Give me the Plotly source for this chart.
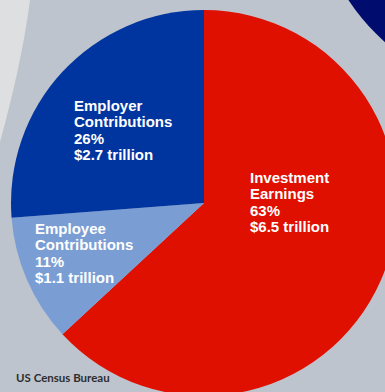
import plotly.graph_objects as go

# Retirement plan asset sources
labels = ["Investment Earnings", "Employee Contributions", "Employer Contributions"]
amounts = [6.5, 1.1, 2.7]          # trillions of dollars
percents = [63, 11, 26]
colors = ["#DF1000", "#7A9ED4", "#0035A0"]
source = "US Census Bureau"

# canvas size in px (slightly larger than the viewport; the overflow is hidden)
W, H = 397, 396


def px(x, y):
    """pixel position (from top-left) -> paper coordinates"""
    return x / W, 1 - y / H


fig = go.Figure()
fig.add_trace(go.Pie(
    labels=labels,
    values=amounts,
    sort=False,
    direction="clockwise",
    rotation=0,
    marker=dict(colors=colors, line=dict(width=0)),
    textinfo="none",
    hoverinfo="label+percent",
    showlegend=False,
    domain=dict(x=[11 / W, 1], y=[0, 1 - 10 / H]),
))

shapes = []
# pale wedge on the upper left
p = [px(0, 0), px(30, 0), px(22, 62), px(0, 142)]
shapes.append(dict(
    type="path", xref="paper", yref="paper", layer="below",
    path=f"M {p[0][0]},{p[0][1]} L {p[1][0]},{p[1][1]} Q {p[2][0]},{p[2][1]} {p[3][0]},{p[3][1]} Z",
    fillcolor="#DEDFE0", line=dict(width=0),
))
# navy disc peeking in at the upper right
cx, cy, r = 531, -121, 219
x0, y1 = px(cx - r, cy - r)
x1, y0 = px(cx + r, cy + r)
shapes.append(dict(
    type="circle", xref="paper", yref="paper", layer="below",
    x0=x0, x1=x1, y0=y0, y1=y1,
    fillcolor="#000C6E", line=dict(width=0),
))

# slice labels, one line per annotation
label_pos = [(248, 177), (33, 228), (72, 105)]
line_gap = 16.6
annotations = []
for name, amt, pct, (lx, ly) in zip(labels, amounts, percents, label_pos):
    lines = name.split(" ") + [f"{pct}%", f"${amt} trillion"]
    for i, t in enumerate(lines):
        ax, ay = px(lx, ly + i * line_gap)
        annotations.append(dict(
            text=t, x=ax, y=ay, xref="paper", yref="paper",
            xanchor="left", yanchor="middle", showarrow=False,
            font=dict(family="Liberation Sans, Arial, sans-serif", size=15, color="white", weight="bold"),
        ))

sx, sy = px(14, 377)
annotations.append(dict(
    text=source, x=sx, y=sy, xref="paper", yref="paper",
    xanchor="left", yanchor="middle", showarrow=False,
    font=dict(family="Lato, sans-serif", size=11.5, color="#2E2E2E", weight="bold"),
))

fig.update_layout(
    width=W, height=H,
    margin=dict(l=0, r=0, t=0, b=0),
    paper_bgcolor="#BEC4CD",
    plot_bgcolor="#BEC4CD",
    shapes=shapes,
    annotations=annotations,
)

fig.write_html(
    "out.html",
    config={"displayModeBar": False},
    post_script="document.documentElement.style.overflow='hidden';document.body.style.overflow='hidden';document.body.style.margin='0';",
)
